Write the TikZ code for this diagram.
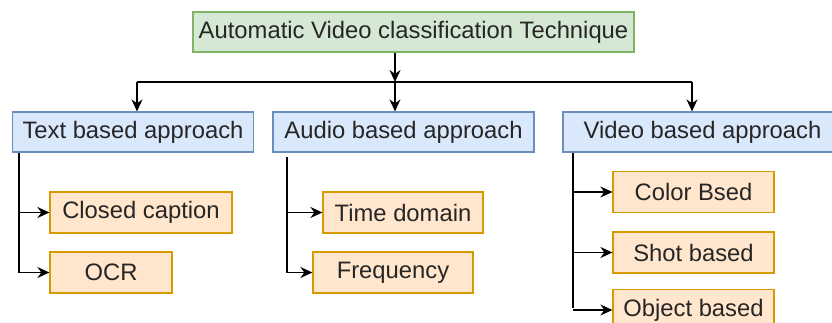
\documentclass[tikz,border=0pt]{standalone}
\usepackage{fontspec}
\setmainfont{Liberation Sans}
\usetikzlibrary{positioning, arrows.meta}

\definecolor{rootfill}{HTML}{D5E8D4}
\definecolor{rootline}{HTML}{82B366}
\definecolor{apfill}{HTML}{DAE8FC}
\definecolor{apline}{HTML}{6C8EBF}
\definecolor{techfill}{HTML}{FFE6CC}
\definecolor{techline}{HTML}{D79B00}

\tikzset{
  box/.style={line width=1.2pt, inner sep=0pt, minimum height=40pt, text=black!85,
    font=\fontsize{23.8}{27}\selectfont},
  rootbox/.style={box, draw=rootline, fill=rootfill},
  apbox/.style={box, draw=apline, fill=apfill},
  techbox/.style={box, draw=techline, fill=techfill, minimum height=41pt},
  link/.style={line width=1.4pt, black},
  arr/.style={link, -{Stealth[length=12pt, width=11pt]}}
}

\begin{document}
\begin{tikzpicture}[x=1pt, y=-1pt]
    \useasboundingbox (0,0) rectangle (832,322);

    % Root and the three approaches
    \node[rootbox, minimum width=441pt] (avc) at (413.5,32) {Automatic Video classification Technique};
    \node[apbox, minimum width=241pt] (tba) at (133,132) {Text based approach};
    \node[apbox, minimum width=261pt] (aba) at (403.5,132) {Audio based approach};
    \node[apbox, minimum width=279pt] (vba) at (702.5,132) {Video based approach};

    % Techniques under each approach
    \foreach \n/\x/\y/\w/\t in {cc/141/212.5/182/Closed caption, ocr/111/272.5/122/OCR,
        tdm/403/212.5/160/Time domain, frq/393/272.5/160/Frequency,
        col/693.5/192/161/Color Bsed, sht/693.5/252.5/161/Shot based, obj/693.5/310/161/Object based} {
      \node[techbox, minimum width=\w pt] (\n) at (\x,\y) {\t};
    }

    % Root to approaches
    \coordinate (hub) at (395,82);
    \coordinate (hl) at (137,82);
    \coordinate (hr) at (692,82);
    \draw[arr] (avc.south -| hub) -- (hub);
    \draw[link] (hl) -- (hr);
    \draw[arr] (hl) -- (tba.north -| hl);
    \draw[arr] (hub) -- (aba.north -| hub);
    \draw[arr] (hr) -- (vba.north -| hr);

    % Text branch
    \coordinate (tx) at (19,152);
    \draw[link] (tba.south -| tx) -- (tx |- ocr.west);
    \foreach \n in {cc, ocr} {
      \draw[arr] (tx |- \n.west) -- (\n.west);
    }

    % Audio branch
    \coordinate (ax) at (287,157);
    \draw[link] (ax) -- (ax |- frq.west);
    \foreach \n in {tdm, frq} {
      \draw[arr] (ax |- \n.west) -- (\n.west);
    }

    % Video branch
    \coordinate (vx) at (573,152);
    \draw[link] (vba.south -| vx) -- ([yshift=2pt]vx |- obj.west);
    \foreach \n in {col, sht, obj} {
      \draw[arr] (vx |- \n.west) -- (\n.west);
    }
\end{tikzpicture}
\end{document}
